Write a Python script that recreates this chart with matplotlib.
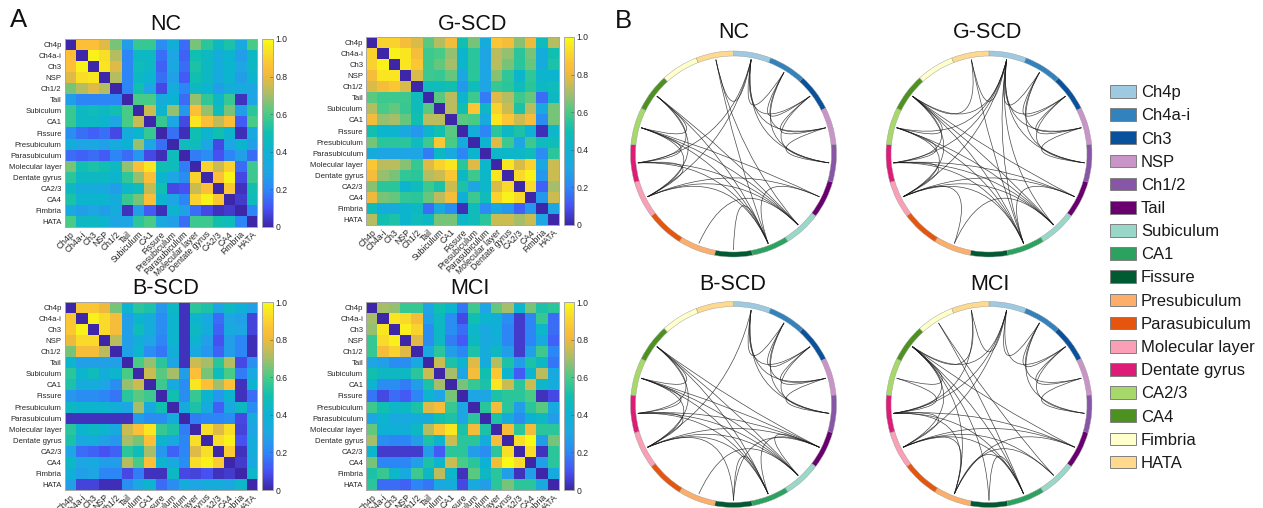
import numpy as np
import matplotlib
matplotlib.use("Agg")
import matplotlib.pyplot as plt
from matplotlib.colors import LinearSegmentedColormap
from matplotlib.patches import Wedge, PathPatch, Patch
from matplotlib.path import Path

plt.rcParams['font.family'] = ['Liberation Sans', 'DejaVu Sans']

regions = ["Ch4p", "Ch4a-i", "Ch3", "NSP", "Ch1/2", "Tail", "Subiculum", "CA1", "Fissure", "Presubiculum",
           "Parasubiculum", "Molecular layer", "Dentate gyrus", "CA2/3", "CA4", "Fimbria", "HATA"]
region_colors = ["#9ecae1", "#3182bd", "#08519c", "#c994c7", "#8856a7", "#6a0070", "#99d8c9", "#2ca25f", "#005a32",
                 "#fdae6b", "#e6550d", "#fa9fb5", "#dd1c77", "#a6d96a", "#4d9221", "#ffffcc", "#fed98e"]
cbar_ticks = [0, 0.2, 0.4, 0.6, 0.8, 1.0]
cbar_labels = ["0", "0.2", "0.4", "0.6", "0.8", "1.0"]

# upper triangles of the matrices, diagonal left out
nc_upper = [
    [.85, .85, .78, .65, .27, .57, .57, .22, .37, .15, .65, .55, .45, .52, .33, .60],
    [.98, .93, .72, .20, .45, .45, .16, .30, .13, .50, .45, .35, .42, .27, .45],
    [.95, .78, .20, .48, .45, .13, .32, .15, .52, .45, .35, .42, .30, .45],
    [.72, .20, .45, .42, .16, .28, .12, .50, .45, .33, .42, .27, .42],
    [.20, .50, .30, .08, .35, .20, .45, .42, .27, .35, .35, .30],
    [.60, .60, .35, .40, .15, .68, .56, .43, .57, .03, .30],
    [.75, .42, .68, .25, .85, .68, .47, .65, .27, .55],
    [.57, .30, .08, .95, .84, .74, .84, .12, .60],
    [.16, .02, .50, .42, .50, .42, .02, .33],
    [.47, .47, .30, .08, .30, .42, .28],
    [.18, .22, .10, .20, .28, .15],
    [.90, .75, .90, .15, .58],
    [.85, .98, .08, .58],
    [.87, .03, .50],
    [.05, .48],
    [.20],
]
gscd_upper = [
    [.90, .90, .83, .77, .62, .72, .82, .50, .65, .35, .87, .83, .67, .80, .47, .72],
    [.98, .95, .83, .58, .60, .68, .42, .55, .30, .73, .68, .55, .65, .35, .50],
    [.95, .87, .58, .63, .70, .42, .55, .30, .73, .65, .55, .63, .35, .52],
    [.77, .58, .57, .63, .32, .55, .30, .67, .56, .42, .56, .42, .42],
    [.47, .47, .50, .25, .47, .30, .57, .55, .47, .55, .45, .47],
    [.62, .73, .42, .58, .18, .78, .72, .58, .63, .15, .45],
    [.73, .50, .87, .45, .90, .75, .52, .73, .33, .65],
    [.62, .60, .33, .95, .87, .75, .83, .22, .65],
    [.35, .20, .55, .45, .52, .38, .02, .43],
    [.42, .78, .58, .30, .58, .47, .48],
    [.43, .43, .43, .48, .22, .55],
    [.95, .77, .90, .32, .75],
    [.92, .98, .25, .75],
    [.92, .13, .70],
    [.25, .75],
    [.30],
]
bscd_upper = [
    [.87, .87, .80, .65, .42, .55, .52, .25, .45, .03, .55, .52, .30, .45, .38, .28],
    [.98, .92, .83, .28, .42, .35, .22, .42, .03, .42, .32, .15, .30, .28, .07],
    [.92, .83, .28, .47, .35, .22, .42, .03, .45, .35, .13, .33, .30, .07],
    [.73, .28, .37, .30, .20, .42, .03, .42, .28, .10, .27, .20, .02],
    [.28, .42, .22, .17, .37, .03, .33, .25, .13, .27, .20, .02],
    [.60, .68, .55, .30, .03, .75, .70, .55, .72, .08, .23],
    [.75, .62, .70, .27, .85, .65, .47, .60, .18, .32],
    [.58, .33, .22, .95, .85, .70, .85, .03, .42],
    [.50, .22, .57, .42, .25, .42, .03, .15],
    [.35, .52, .33, .13, .32, .45, .22],
    [.18, .20, .20, .22, .08, .35],
    [.93, .78, .93, .07, .30],
    [.93, .98, .10, .35],
    [.88, .03, .35],
    [.05, .32],
    [.43],
]
mci_upper = [
    [.70, .68, .57, .57, .30, .50, .42, .17, .58, .30, .63, .70, .42, .65, .52, .55],
    [.95, .92, .83, .28, .45, .22, .08, .50, .42, .38, .22, .05, .20, .57, .15],
    [.97, .90, .22, .45, .22, .15, .43, .33, .38, .20, .05, .20, .43, .15],
    [.78, .22, .45, .18, .12, .45, .33, .37, .20, .05, .20, .33, .13],
    [.32, .55, .27, .20, .52, .35, .45, .27, .05, .28, .58, .20],
    [.75, .52, .42, .78, .35, .72, .52, .27, .52, .45, .17],
    [.70, .30, .83, .50, .87, .42, .12, .42, .73, .33],
    [.65, .57, .52, .95, .75, .55, .75, .43, .35],
    [.30, .30, .52, .55, .55, .60, .03, .08],
    [.55, .82, .55, .27, .55, .62, .33],
    [.52, .35, .22, .40, .45, .27],
    [.83, .55, .82, .55, .55],
    [.93, 1.0, .27, .65],
    [.93, .03, .55],
    [.28, .55],
    [.33],
]

# edges of the circular graphs, by index into regions
basal_edges = [(0, 1), (0, 2), (0, 3), (0, 4), (1, 2), (1, 3), (1, 4), (2, 3), (2, 4), (3, 4)]
hippo_edges = [(6, 11), (6, 12), (6, 13), (6, 14), (7, 11), (7, 12), (7, 13), (7, 14),
               (11, 12), (11, 13), (11, 14), (12, 13), (12, 14), (13, 14)]
nc_edges = basal_edges + hippo_edges + [(0, 16), (0, 11), (0, 12), (16, 7), (16, 6), (5, 7), (5, 11), (5, 13),
                                        (6, 9), (7, 8)]
gscd_edges = basal_edges + hippo_edges + [(0, 16), (0, 14), (0, 13), (0, 12), (0, 11), (0, 7), (0, 6), (16, 7),
                                          (16, 14), (5, 7), (5, 11), (5, 12), (5, 14), (6, 9), (9, 11)]
bscd_edges = basal_edges + hippo_edges + [(0, 11), (5, 7), (5, 6), (5, 11), (5, 12), (5, 13), (5, 14), (6, 9),
                                          (7, 8), (8, 11), (8, 5)]
mci_edges = [(0, 1), (0, 2), (1, 2), (1, 3), (1, 4), (2, 3), (2, 4), (3, 4),
             (0, 16), (0, 11), (0, 12), (0, 14), (16, 12), (16, 14), (5, 9), (5, 11), (5, 12), (5, 14),
             (6, 9), (6, 11), (7, 8), (7, 9), (7, 11), (7, 12), (7, 14), (9, 11), (9, 12), (9, 14),
             (11, 12), (11, 14), (12, 13), (12, 14), (13, 14), (15, 6), (15, 7), (8, 14)]

# positions in pixels of the reference
W, H = 1263, 508
heat_panels = [("NC", nc_upper, 64.5, 39, 166, 24),
               ("G-SCD", gscd_upper, 366, 37, 473, 24),
               ("B-SCD", bscd_upper, 64.5, 302, 166, 289),
               ("MCI", mci_upper, 366, 302, 470, 289)]
chord_panels = [("NC", nc_edges, 733.5, 154, 734, 32),
                ("G-SCD", gscd_edges, 989, 154, 988, 33),
                ("B-SCD", bscd_edges, 733.5, 404.5, 733, 285),
                ("MCI", mci_edges, 989, 404.5, 990, 285)]

# parula, old matlab version
parula = LinearSegmentedColormap.from_list("parula", [
    (0.00, (0.2422, 0.1504, 0.6603)), (0.10, (0.2810, 0.3228, 0.9579)), (0.20, (0.1786, 0.5289, 0.9682)),
    (0.30, (0.1160, 0.6540, 0.8900)), (0.40, (0.0500, 0.7000, 0.8300)), (0.50, (0.0641, 0.7497, 0.6971)),
    (0.60, (0.2809, 0.7964, 0.5266)), (0.70, (0.6473, 0.7456, 0.4188)), (0.80, (0.9300, 0.7300, 0.2400)),
    (0.85, (0.9900, 0.7500, 0.2200)), (0.92, (0.9800, 0.8500, 0.1700)), (1.00, (0.9769, 0.9839, 0.0805))])


def px_axes(x, y, w, h):
    return fig.add_axes([x / W, 1 - (y + h) / H, w / W, h / H])


def mirror(upper):
    m = np.zeros((17, 17))
    for i, row in enumerate(upper):
        m[i, i + 1:] = row
    return m + m.T


fig = plt.figure(figsize=(W / 100, H / 100), dpi=100)
dark = "#262626"
gray = "#a8a8a8"

for name, upper, x, y, tx, ty in heat_panels:
    ax = px_axes(x, y, 192.5, 188)
    im = ax.imshow(mirror(upper), cmap=parula, vmin=0, vmax=1, aspect='auto', interpolation='nearest')
    ax.set_xticks(range(17))
    ax.set_yticks(range(17))
    ax.set_xticklabels(regions, rotation=45, ha='right', rotation_mode='anchor', fontsize=6.2, color=dark)
    ax.set_yticklabels(regions, fontsize=5.6, color=dark)
    ax.tick_params(length=0, pad=2)
    for s in ax.spines.values():
        s.set_color(gray)
        s.set_linewidth(0.7)
    cax = px_axes(x + 197.5, y, 10.5, 188)
    cb = fig.colorbar(im, cax=cax, ticks=cbar_ticks)
    cb.ax.set_yticklabels(cbar_labels, fontsize=6.2, color=dark)
    cb.ax.tick_params(length=2, width=0.4, direction='in', color="#555555", pad=2)
    cb.outline.set_edgecolor(gray)
    cb.outline.set_linewidth(0.7)
    fig.text(tx / W, 1 - ty / H, name, fontsize=15.5, ha='center', va='center', color="#111111")

step = 360 / 17
for name, edges, cx, cy, tx, ty in chord_panels:
    ax = px_axes(cx - 106, cy - 106, 212, 212)
    ax.set_xlim(-106, 106)
    ax.set_ylim(-106, 106)
    ax.set_aspect('equal')
    ax.axis('off')
    for i, c in enumerate(region_colors):
        ax.add_patch(Wedge((0, 0), 103, 90 - (i + 1) * step, 90 - i * step, width=5, facecolor=c,
                           edgecolor="#9a9a9a", linewidth=0.3))
    ang = np.radians(90 - (np.arange(17) + 0.5) * step)
    nodes = np.c_[96 * np.cos(ang), 96 * np.sin(ang)]
    for a, b in edges:
        ctrl = (nodes[a] + nodes[b]) / 2 * 0.115
        p = Path([nodes[a], ctrl, nodes[b]], [Path.MOVETO, Path.CURVE3, Path.CURVE3])
        ax.add_patch(PathPatch(p, facecolor='none', edgecolor='#1a1a1a', linewidth=0.5, alpha=0.8))
    fig.text(tx / W, 1 - ty / H, name, fontsize=15.5, ha='center', va='center', color="#111111")

fig.text(19 / W, 1 - 20 / H, "A", fontsize=18.5, ha='center', va='center', color="#111111")
fig.text(623 / W, 1 - 21 / H, "B", fontsize=18.5, ha='center', va='center', color="#111111")

handles = [Patch(facecolor=c, edgecolor="#808080", linewidth=0.7, label=r) for c, r in zip(region_colors, regions)]
leg = fig.legend(handles=handles, loc='upper left', bbox_to_anchor=(1110 / W, 1 - 85 / H), frameon=False,
                 fontsize=12, handlelength=1.55, handleheight=0.8, handletextpad=0.3, labelspacing=0.48,
                 borderpad=0, borderaxespad=0, labelcolor="#1a1a1a")

fig.savefig("out.png", dpi=100)
